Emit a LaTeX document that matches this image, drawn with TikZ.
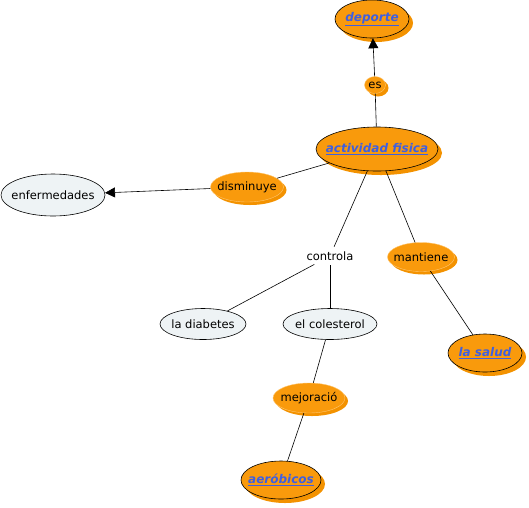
\documentclass[tikz,border=0pt]{standalone}
\usepackage{fontspec}
\setmainfont{DejaVu Sans}
\usetikzlibrary{shapes.geometric,shadows,arrows.meta}
\definecolor{org}{HTML}{F99A0C}
\definecolor{orgsh}{HTML}{F39200}
\definecolor{orgedge}{HTML}{FFC772}
\definecolor{pale}{HTML}{EEF3F5}
\definecolor{linkblue}{HTML}{3F5FE0}
\newcommand\zw[1]{\makebox[0pt]{#1}}
\tikzset{
  base/.style={ellipse, inner sep=0pt, font=\fontsize{11.5}{13}\selectfont},
  linkbox/.style={base, draw=black, line width=0.6pt, fill=org,
    drop shadow={shadow xshift=4pt, shadow yshift=-4pt, fill=orgsh, opacity=1},
    text=linkblue, font=\fontsize{12}{14}\selectfont\bfseries\itshape},
  phrase/.style={base, draw=orgedge, line width=0.4pt, fill=org,
    drop shadow={shadow xshift=3pt, shadow yshift=-3pt, fill=orgsh, opacity=1}},
  concept/.style={base, draw=black, line width=0.6pt, fill=pale},
  conn/.style={line width=0.6pt, black},
  arr/.style={conn, -{Triangle[length=10pt,width=10pt]}}
}
\begin{document}
\begin{tikzpicture}[x=1pt,y=-1pt]
\useasboundingbox (0,0) rectangle (529,507);
\node[linkbox, minimum width=74pt, minimum height=38pt] (dep) at (372,19) {\zw{\underline{deporte}}};
\node[phrase, minimum width=21pt, minimum height=17pt] (es) at (375,85) {\zw{es}};
\node[linkbox, minimum width=122pt, minimum height=44pt] (act) at (377,149) {\zw{\underline{actividad fisica}}};
\node[phrase, minimum width=73pt, minimum height=30pt] (dis) at (247,187) {\zw{disminuye}};
\node[concept, minimum width=104pt, minimum height=42pt] (enf) at (53,195) {\zw{enfermedades}};
\node[base, inner sep=2pt] (con) at (330,256) {controla};
\node[phrase, minimum width=67pt, minimum height=29pt] (man) at (421,257) {\zw{mantiene}};
\node[concept, minimum width=86pt, minimum height=31pt] (dia) at (203,324) {\zw{la diabetes}};
\node[concept, minimum width=94pt, minimum height=31pt] (col) at (330,324) {\zw{el colesterol}};
\node[phrase, minimum width=72pt, minimum height=30pt] (mej) at (309,398) {\zw{mejoració}};
\node[linkbox, minimum width=74pt, minimum height=38pt] (sal) at (485,353) {\zw{\underline{la salud}}};
\node[linkbox, minimum width=80pt, minimum height=38pt] (aer) at (281,480) {\zw{\underline{aeróbicos}}};
\draw[arr] (es) -- (dep);
\draw[conn] (act) -- (es);
\draw[conn] (act) -- (dis);
\draw[arr] (dis) -- (enf);
\draw[conn] (act) -- (con);
\draw[conn] (act) -- (man);
\draw[conn] (con) -- (dia);
\draw[conn] (con) -- (col);
\draw[conn] (col) -- (mej);
\draw[conn] (mej) -- (aer);
\draw[conn] (man) -- (sal);
\end{tikzpicture}
\end{document}
